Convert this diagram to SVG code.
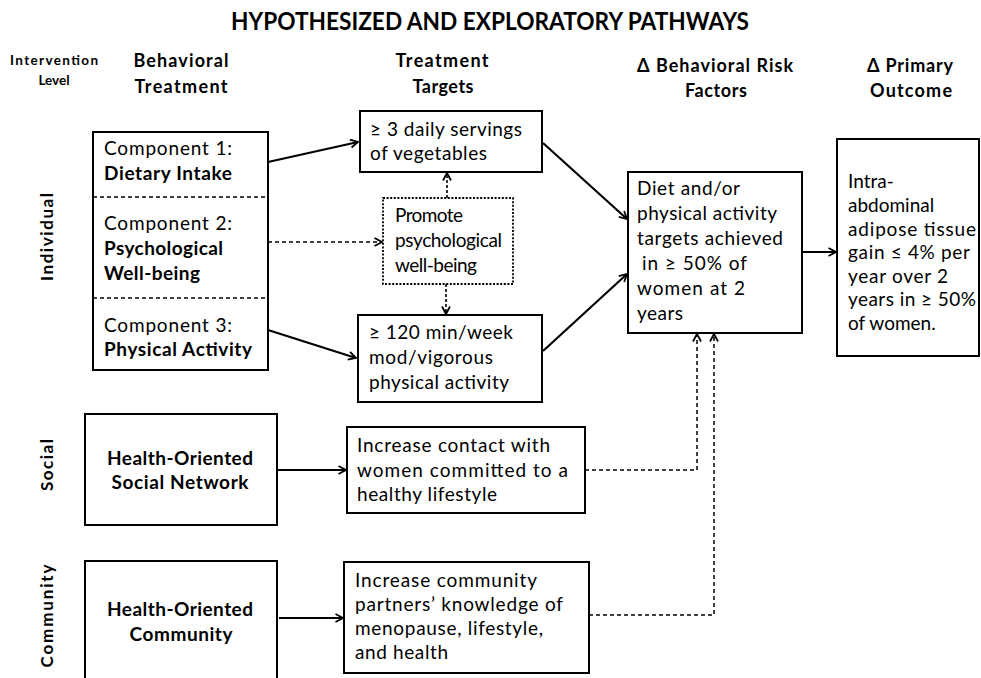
<svg xmlns="http://www.w3.org/2000/svg" width="981" height="678" viewBox="0 0 981 678">
<style>
text{font-family:Lato,"Open Sans","Liberation Sans",sans-serif;fill:#000}
.t{font-size:19px}
.b{font-size:19px;font-weight:bold}
.h{font-size:18px;font-weight:bold;text-anchor:middle}
.lv{font-size:17px;font-weight:bold;text-anchor:middle}
.box{fill:#fff;stroke:#000;stroke-width:2}
.dot{fill:#fff;stroke:#000;stroke-width:1.8;stroke-dasharray:2 1.6}
.div{stroke:#000;stroke-width:1.5;stroke-dasharray:4 3;fill:none}
.sol{stroke:#000;stroke-width:2.2;fill:none;marker-end:url(#ah)}
.dsh{stroke:#000;stroke-width:1.5;stroke-dasharray:4 3;fill:none;marker-end:url(#ah)}
.dt{stroke:#000;stroke-width:1.6;stroke-dasharray:3 2;fill:none;marker-end:url(#ah)}
</style>
<defs>
<marker id="ah" viewBox="0 0 10 10" refX="9" refY="5" markerWidth="10" markerHeight="10" markerUnits="userSpaceOnUse" orient="auto">
<polyline points="1.5,1 9,5 1.5,9" fill="none" stroke="#000" stroke-width="1.8"/>
</marker>
</defs>
<rect width="981" height="678" fill="#fff"/>

<g id="title">
<text x="490" y="30" text-anchor="middle" font-size="25" font-weight="bold" textLength="518" lengthAdjust="spacingAndGlyphs">HYPOTHESIZED AND EXPLORATORY PATHWAYS</text>
</g>

<g id="headers">
<text x="54" y="65" font-size="13.5" font-weight="bold" text-anchor="middle" textLength="88">Intervention</text>
<text x="54" y="85" font-size="13.5" font-weight="bold" text-anchor="middle">Level</text>
<text class="h" x="181" y="67" textLength="95">Behavioral</text>
<text class="h" x="181" y="93" textLength="93">Treatment</text>
<text class="h" x="442" y="67" textLength="93">Treatment</text>
<text class="h" x="443" y="93" textLength="61">Targets</text>
<text class="h" x="715" y="72" textLength="156">Δ Behavioral Risk</text>
<text class="h" x="716" y="97" textLength="62">Factors</text>
<text class="h" x="910" y="72" textLength="86">Δ Primary</text>
<text class="h" x="911" y="97" textLength="82">Outcome</text>
</g>

<g id="levels">
<text class="lv" transform="translate(53,237) rotate(-90)" textLength="88">Individual</text>
<text class="lv" transform="translate(53,465) rotate(-90)" textLength="52">Social</text>
<text class="lv" transform="translate(53,616) rotate(-90)" textLength="103">Community</text>
</g>

<g id="components">
<rect class="box" x="93" y="132" width="175" height="238"/>
<line class="div" x1="93" y1="197" x2="268" y2="197"/>
<line class="div" x1="93" y1="298" x2="268" y2="298"/>
<text class="t" x="104" y="155" textLength="128">Component 1:</text>
<text class="b" x="104" y="180" textLength="128">Dietary Intake</text>
<text class="t" x="104" y="230" textLength="128">Component 2:</text>
<text class="b" x="104" y="255" textLength="119">Psychological</text>
<text class="b" x="104" y="280" textLength="96">Well-being</text>
<text class="t" x="104" y="332" textLength="128">Component 3:</text>
<text class="b" x="104" y="356" textLength="148">Physical Activity</text>
</g>

<g id="veg">
<rect class="box" x="360" y="111" width="182" height="61"/>
<text class="t" x="370" y="136" textLength="152">≥ 3 daily servings</text>
<text class="t" x="370" y="160" textLength="117">of vegetables</text>
</g>

<g id="promote">
<rect class="dot" x="383" y="198" width="130" height="86"/>
<text class="t" x="395" y="222" textLength="68">Promote</text>
<text class="t" x="395" y="247" textLength="107">psychological</text>
<text class="t" x="395" y="272" textLength="82">well-being</text>
</g>

<g id="pa">
<rect class="box" x="358" y="315" width="184" height="87"/>
<text class="t" x="369" y="339" textLength="144">≥ 120 min/week</text>
<text class="t" x="369" y="364" textLength="124">mod/vigorous</text>
<text class="t" x="369" y="389" textLength="140">physical activity</text>
</g>

<g id="risk">
<rect class="box" x="628" y="172" width="174" height="161"/>
<text class="t" x="637" y="195" textLength="103">Diet and/or</text>
<text class="t" x="637" y="220" textLength="140">physical activity</text>
<text class="t" x="637" y="245" textLength="146">targets achieved</text>
<text class="t" x="642" y="270" textLength="105">in ≥ 50%  of</text>
<text class="t" x="637" y="295" textLength="108">women at 2</text>
<text class="t" x="637" y="320" textLength="46">years</text>
</g>

<g id="outcome">
<rect class="box" x="837" y="139" width="142" height="217"/>
<text class="t" x="848" y="188">Intra-</text>
<text class="t" x="848" y="212">abdominal</text>
<text class="t" x="848" y="236" textLength="128">adipose tissue</text>
<text class="t" x="848" y="259" textLength="122">gain ≤ 4% per</text>
<text class="t" x="848" y="283" textLength="100">year over 2</text>
<text class="t" x="848" y="306" textLength="128">years in ≥ 50%</text>
<text class="t" x="848" y="330">of women.</text>
</g>

<g id="social">
<rect class="box" x="85" y="414" width="192" height="111"/>
<text class="b" x="180" y="465" text-anchor="middle" textLength="146">Health-Oriented</text>
<text class="b" x="180" y="489" text-anchor="middle" textLength="137">Social Network</text>
</g>

<g id="contact">
<rect class="box" x="347" y="427" width="238" height="86"/>
<text class="t" x="357" y="452" textLength="193">Increase contact with</text>
<text class="t" x="357" y="477" textLength="211">women committed to a</text>
<text class="t" x="357" y="501" textLength="140">healthy lifestyle</text>
</g>

<g id="community">
<rect class="box" x="85" y="561" width="192" height="118"/>
<text class="b" x="180" y="616" text-anchor="middle" textLength="146">Health-Oriented</text>
<text class="b" x="181" y="641" text-anchor="middle" textLength="103">Community</text>
</g>

<g id="partners">
<rect class="box" x="344" y="562" width="245" height="111"/>
<text class="t" x="355" y="587" textLength="182">Increase community</text>
<text class="t" x="355" y="611" textLength="208">partners’ knowledge of</text>
<text class="t" x="355" y="635" textLength="188">menopause, lifestyle,</text>
<text class="t" x="355" y="659" textLength="93">and health</text>
</g>

<g id="connectors">
<line class="sol" x1="268" y1="162" x2="358" y2="142"/>
<line class="sol" x1="268" y1="330" x2="356" y2="358"/>
<line class="dsh" x1="268" y1="242" x2="382" y2="242"/>
<line class="dt" x1="447" y1="198" x2="447" y2="173"/>
<line class="dt" x1="446" y1="284" x2="446" y2="314"/>
<line class="sol" x1="543" y1="143" x2="627" y2="219"/>
<line class="sol" x1="543" y1="351" x2="627" y2="274"/>
<line class="sol" x1="802" y1="252" x2="836" y2="252"/>
<line class="sol" x1="277" y1="470" x2="346" y2="470"/>
<line class="sol" x1="279" y1="618" x2="343" y2="618"/>
<polyline class="dsh" points="585,470 697,470 697,334"/>
<polyline class="dsh" points="589,615 714,615 714,334"/>
</g>
</svg>
